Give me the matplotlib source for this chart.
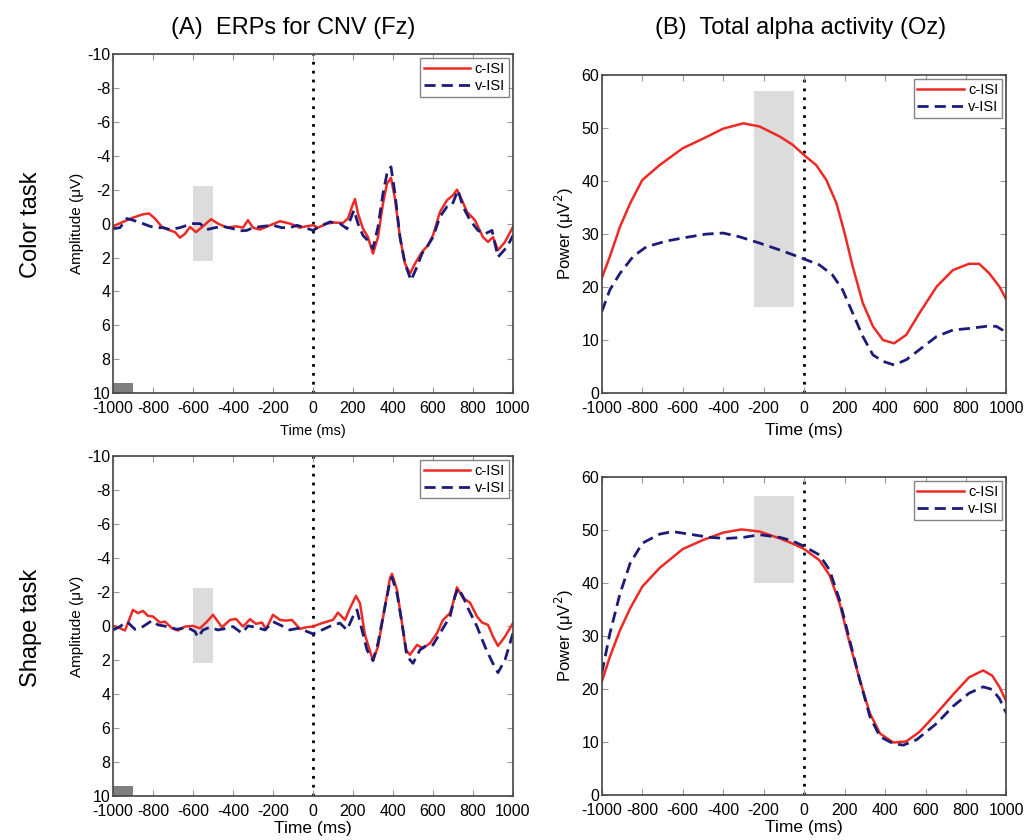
import matplotlib.pyplot as plt

plt.rcParams['font.family'] = ['Liberation Sans', 'DejaVu Sans']
plt.rcParams['axes.unicode_minus'] = False

# ERP, color task (Fz)
erp_color_c_t = [-1000, -950, -900, -850, -820, -790, -755, -715, -690, -665, -640, -615, -585, -550,
                 -510, -475, -430, -385, -350, -325, -300, -265, -215, -165, -115, -65, -35, 0, 25, 70,
                 100, 150, 175, 195, 210, 225, 250, 275, 300, 325, 350, 370, 390, 410, 435, 460, 485,
                 510, 545, 575, 600, 635, 670, 700, 720, 745, 770, 810, 850, 875, 900, 925, 960, 1000]
erp_color_c_v = [0.16, -0.1, -0.35, -0.55, -0.6, -0.3, 0.2, 0.4, 0.5, 0.83, 0.6, 0.2, 0.5, 0.16,
                 -0.26, 0, 0.24, 0.16, 0.24, -0.2, 0.24, 0.35, 0.1, -0.14, 0, 0.24, 0.16, 0.1, 0.24, 0,
                 -0.06, -0.04, -0.3, -1.0, -1.45, -0.6, 0.3, 0.8, 1.77, 0.8, -1.18, -2.36, -2.7, -1.47,
                 0.8, 2.36, 2.95, 2.36, 1.67, 1.28, 0.69, -0.69, -1.38, -1.67, -2.0, -1.38, -0.69, -0.2,
                 0.8, 1.08, 0.8, 1.57, 1.08, 0.2]
erp_color_v_t = [-1000, -965, -930, -900, -850, -815, -780, -750, -715, -665, -630, -600, -565, -530,
                 -490, -450, -400, -365, -330, -300, -250, -200, -155, -115, -80, -40, 0, 35, 85, 135,
                 170, 195, 205, 225, 250, 275, 300, 325, 350, 370, 390, 410, 435, 460, 490, 520, 545,
                 575, 600, 635, 670, 695, 725, 750, 785, 825, 860, 895, 925, 970, 1000]
erp_color_v_v = [0.3, 0.24, -0.3, -0.2, 0, 0.16, 0.24, 0.24, 0.35, 0.24, 0.1, 0, 0, 0.35,
                 0.24, 0.16, 0.3, 0.43, 0.4, 0.24, 0.16, 0.1, 0.24, 0.24, 0.1, 0.24, 0.4, 0.16, -0.1, 0,
                 0.3, -0.5, -0.8, 0, 0.7, 1.0, 1.47, 0.2, -1.77, -2.95, -3.35, -1.77, 0.8, 2.36, 3.35,
                 2.55, 1.77, 1.28, 0.8, -0.4, -1.0, -1.08, -1.97, -1.0, -0.2, 0.4, 0.6, 0.4, 1.97, 1.38, 0.7]

# ERP, shape task (Fz)
erp_shape_c_t = [-1000, -975, -940, -900, -875, -850, -825, -800, -765, -740, -705, -675, -640, -600,
                 -565, -530, -500, -455, -415, -385, -350, -315, -285, -255, -235, -200, -165, -135,
                 -105, -65, -35, 0, 35, 70, 100, 125, 160, 185, 215, 235, 260, 300, 325, 360, 385, 395,
                 420, 445, 465, 485, 520, 550, 585, 620, 650, 685, 700, 720, 750, 785, 820, 845, 875,
                 900, 925, 960, 1000]
erp_shape_c_v = [0, 0.08, 0.27, -0.94, -0.75, -0.88, -0.59, -0.55, -0.2, -0.25, 0.14, 0.27, 0.04, 0,
                 0.14, -0.25, -0.65, 0.08, -0.35, -0.41, 0.04, -0.39, -0.12, -0.2, 0.2, -0.65, -0.35,
                 -0.31, -0.35, 0.18, 0.08, 0.04, -0.12, -0.25, -0.35, -0.78, -0.35, -1.04, -1.76, -1.33,
                 0.53, 2.04, 1.22, -1.14, -2.8, -3.06, -2.12, -0.16, 1.41, 1.7, 1.12, 1.31, 1.02, 0.43,
                 -0.35, -0.75, -1.33, -2.27, -1.63, -1.37, -0.55, -0.2, -0.06, 0.63, 1.18, 0.63, -0.16]
erp_shape_v_t = [-1000, -965, -930, -890, -850, -805, -775, -730, -680, -630, -590, -575, -550, -515,
                 -475, -430, -400, -355, -325, -285, -240, -200, -155, -115, -75, -30, 0, 45, 100, 135,
                 170, 200, 220, 245, 270, 300, 325, 360, 385, 395, 420, 445, 470, 500, 535, 570, 600,
                 650, 685, 710, 725, 750, 775, 820, 860, 895, 925, 960, 1000]
erp_shape_v_v = [0.24, 0.04, -0.25, 0.2, 0.04, -0.31, -0.06, 0.04, 0.2, 0.08, 0.33, 0.67, 0.24, 0.08,
                 0.24, 0.14, 0.04, 0.43, 0, 0.08, 0.24, -0.25, 0, 0.24, 0.14, 0.33, 0.47, 0.24, -0.06,
                 -0.16, 0.24, -0.55, -0.94, 0.24, 1.41, 2.04, 1.02, -1.14, -2.6, -2.86, -1.92, -0.16,
                 1.8, 2.2, 1.41, 1.12, 1.12, 0.14, -0.55, -1.73, -2.22, -1.73, -1.04, 0.04, 1.22, 2.1,
                 2.75, 2.0, 0.43]

# Alpha power, color task (Oz)
pow_color_c_t = [-1000, -960, -910, -860, -800, -715, -600, -500, -400, -300, -220, -120, -55, 0, 60,
                 110, 160, 200, 240, 290, 340, 390, 445, 505, 570, 655, 735, 815, 865, 915, 965, 1000]
pow_color_c_v = [21.7, 25.8, 31.4, 35.8, 40.2, 43.0, 46.2, 48.0, 49.9, 50.9, 50.3, 48.4, 46.8, 44.9,
                 43.0, 40.2, 35.8, 30.2, 23.9, 17.0, 12.6, 10.0, 9.4, 11.0, 15.1, 20.1, 23.2, 24.4,
                 24.4, 22.6, 20.1, 17.6]
pow_color_v_t = [-1000, -960, -910, -845, -780, -680, -580, -485, -400, -320, -220, -120, -55, 0, 75,
                 140, 190, 240, 290, 340, 390, 445, 505, 570, 655, 735, 815, 900, 950, 980, 1000]
pow_color_v_v = [15.4, 19.5, 22.6, 25.8, 27.6, 28.7, 29.4, 30.0, 30.2, 29.5, 28.3, 27.0, 26.1, 25.3,
                 24.2, 22.3, 19.5, 15.1, 10.7, 7.2, 6.0, 5.3, 6.3, 8.2, 10.7, 11.9, 12.2, 12.6, 12.6,
                 11.9, 10.7]

# Alpha power, shape task (Oz)
pow_shape_c_t = [-1000, -960, -910, -860, -800, -715, -600, -500, -400, -310, -220, -120, -55, 0, 75,
                 125, 175, 225, 275, 325, 375, 440, 505, 570, 655, 735, 815, 885, 930, 965, 1000]
pow_shape_c_v = [21.4, 26.1, 31.1, 35.2, 39.3, 42.8, 46.4, 48.1, 49.5, 50.1, 49.7, 48.4, 47.4, 46.4,
                 44.3, 41.5, 36.2, 28.6, 21.7, 15.4, 11.6, 9.9, 10.1, 11.9, 15.4, 18.9, 22.2, 23.5,
                 22.5, 20.4, 17.6]
pow_shape_v_t = [-1000, -960, -910, -860, -800, -715, -650, -550, -465, -385, -300, -220, -120, -55, 0,
                 75, 125, 175, 225, 275, 325, 375, 440, 490, 555, 655, 735, 815, 885, 930, 965, 1000]
pow_shape_v_v = [23.0, 30.5, 38.0, 43.7, 47.5, 49.2, 49.7, 49.1, 48.6, 48.4, 48.6, 49.1, 48.6, 47.9,
                 46.9, 45.3, 42.5, 36.8, 29.2, 21.7, 14.8, 11.0, 9.7, 9.4, 10.4, 13.5, 16.7, 19.2, 20.4,
                 19.9, 18.2, 15.4]

RED = '#ee2a24'
BLUE = '#1c1c78'
xticks = list(range(-1000, 1001, 200))

fig = plt.figure(figsize=(10.27, 8.4), dpi=100)
ax_tl = fig.add_axes([0.110, 0.532, 0.3895, 0.4036])
ax_bl = fig.add_axes([0.110, 0.0524, 0.3895, 0.405])
ax_tr = fig.add_axes([0.586, 0.532, 0.394, 0.3786])
ax_br = fig.add_axes([0.586, 0.0536, 0.394, 0.3786])


def style(ax, xlabel_size, labelpad):
    ax.set_xlim(-1000, 1000)
    ax.set_xticks(xticks)
    ax.tick_params(direction='in', top=True, right=True, labelsize=11.5, length=4,
                   color='#999999')
    ax.tick_params(axis='x', pad=5.5)
    ax.tick_params(axis='y', pad=2)
    for s in ax.spines.values():
        s.set_color('#444444')
        s.set_linewidth(1.2)
    ax.set_xlabel('Time (ms)', fontsize=xlabel_size, labelpad=labelpad)
    ax.axvline(0, color='black', linestyle=(0, (1, 2.2)), linewidth=2, zorder=1)
    leg = ax.legend(loc='upper right', fontsize=10.5, handlelength=3.2, fancybox=False,
                    borderpad=0.25, labelspacing=0.2, handletextpad=0.3, borderaxespad=0.3)
    leg.get_frame().set_edgecolor('#666666')
    leg.get_frame().set_linewidth(1.0)


for ax, ct, cv, vt, vv, xl, lp in [(ax_tl, erp_color_c_t, erp_color_c_v, erp_color_v_t, erp_color_v_v, 10.5, 6),
                                    (ax_bl, erp_shape_c_t, erp_shape_c_v, erp_shape_v_t, erp_shape_v_v, 12.5, 2)]:
    ax.axvspan(-600, -500, ymin=0.39, ymax=0.61, color='#dcdcdc', lw=0, zorder=0)
    ax.axvspan(-1000, -900, ymin=0, ymax=0.03, color='#7f7f7f', lw=0, zorder=0)
    ax.plot(ct, cv, color=RED, lw=1.8, label='c-ISI')
    ax.plot(vt, vv, color=BLUE, lw=2.0, linestyle=(0, (4, 2.2)), label='v-ISI')
    ax.set_ylim(10, -10)
    ax.set_yticks(range(-10, 11, 2))
    ax.set_ylabel('Amplitude (μV)', fontsize=11, labelpad=2)
    style(ax, xl, lp)

for ax, ct, cv, vt, vv, span, lp in [(ax_tr, pow_color_c_t, pow_color_c_v, pow_color_v_t, pow_color_v_v, (16.3, 57), 5),
                                      (ax_br, pow_shape_c_t, pow_shape_c_v, pow_shape_v_t, pow_shape_v_v, (40, 56.5), 2)]:
    ax.fill_between([-250, -50], span[0], span[1], color='#dcdcdc', lw=0, zorder=0)
    ax.plot(ct, cv, color=RED, lw=1.8, label='c-ISI')
    ax.plot(vt, vv, color=BLUE, lw=2.0, linestyle=(0, (4, 2.2)), label='v-ISI')
    ax.set_ylim(0, 60)
    ax.set_yticks(range(0, 61, 10))
    ax.set_ylabel('Power (μV$^2$)', fontsize=12, labelpad=4)
    style(ax, 12.5, lp)

fig.text(0.285, 0.967, '(A)  ERPs for CNV (Fz)', fontsize=17, ha='center', va='center')
fig.text(0.780, 0.967, '(B)  Total alpha activity (Oz)', fontsize=17, ha='center', va='center')
fig.text(0.030, 0.732, 'Color task', fontsize=17, rotation=90, ha='center', va='center')
fig.text(0.030, 0.253, 'Shape task', fontsize=17, rotation=90, ha='center', va='center')

fig.savefig('out.png', dpi=100)
